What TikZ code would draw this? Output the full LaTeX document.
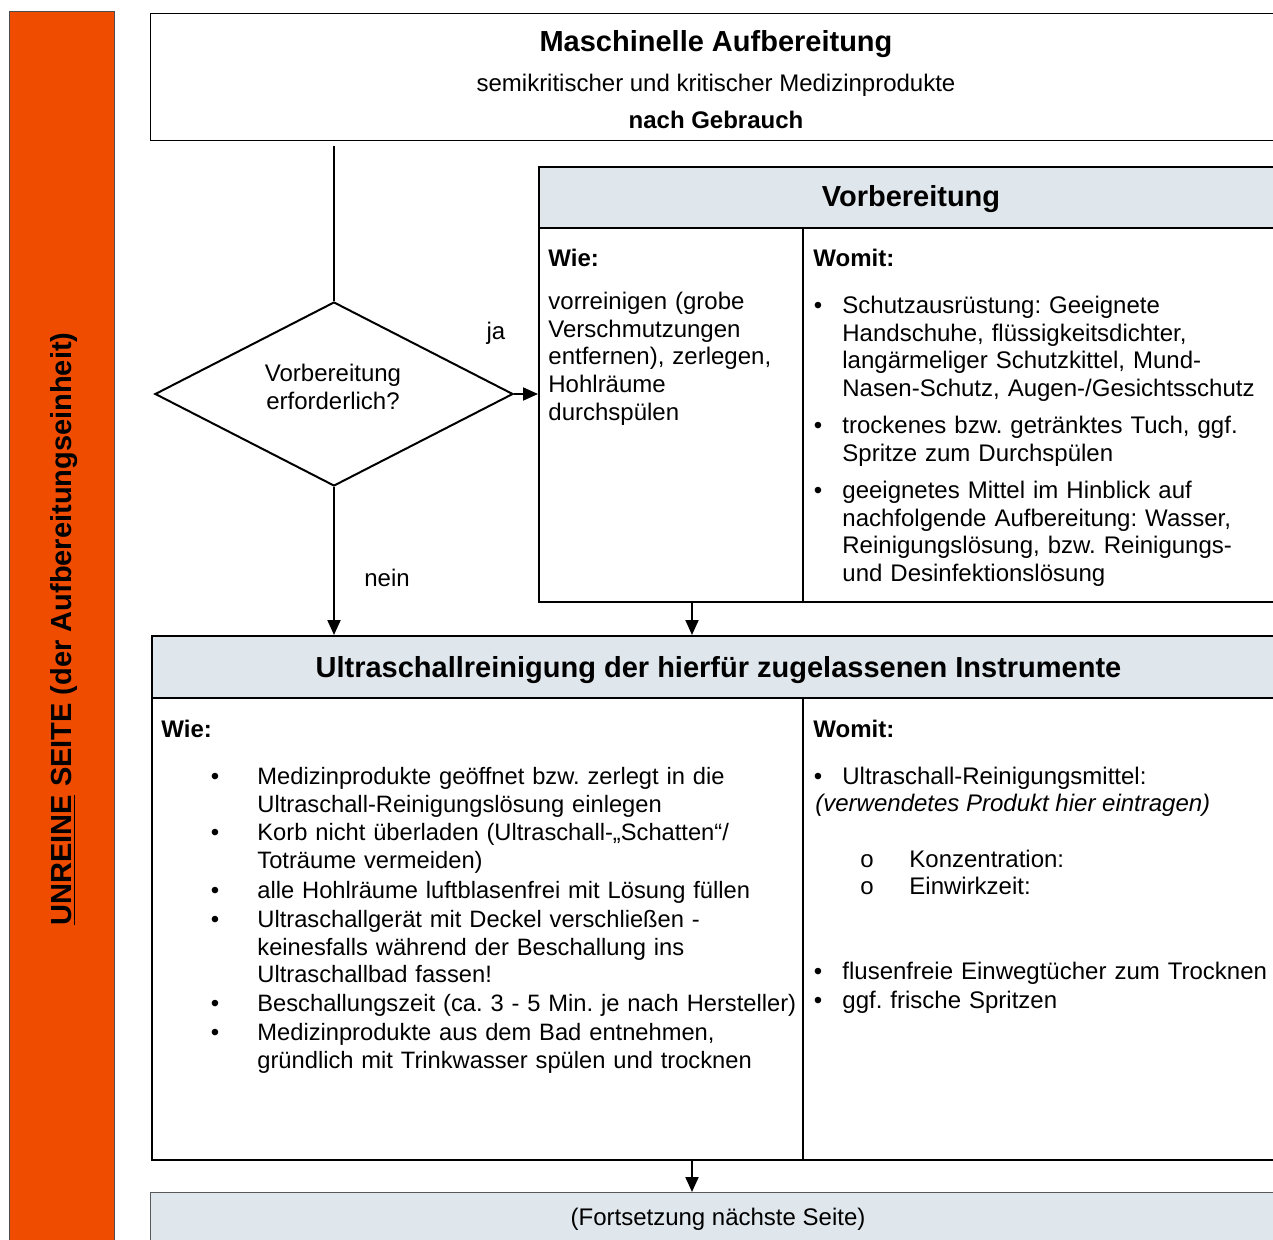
\documentclass[tikz,border=0pt]{standalone}
\usepackage{fontspec}
\setmainfont{Liberation Sans}
\usepackage{tikz}
\usetikzlibrary{positioning,shapes.geometric,arrows.meta}

\definecolor{unrein}{RGB}{240,76,0}
\definecolor{kopf}{RGB}{223,230,236}
\newcommand{\txtsize}{\fontsize{12}{13.8}\selectfont}
\newcommand{\lstsize}{\fontsize{11.85}{13.8}\selectfont}
\newcommand{\titsize}{\fontsize{14.5}{17}\selectfont\bfseries}
\frenchspacing

\tikzset{
  box/.style={draw, line width=1pt, rectangle, anchor=north west, inner sep=0pt},
  hdrbox/.style={box, fill=kopf, font=\titsize},
  txt/.style={anchor=north west, inner sep=0pt, align=left, text width=#1,
    font=\txtsize, execute at begin node=\strut},
  txt/.default=250pt,
  lst/.style={txt=280pt, font=\lstsize},
  bul/.style={anchor=north, inner sep=0pt, font=\txtsize, execute at begin node=\strut},
  lbl/.style={inner sep=0pt, font=\txtsize},
  fett/.style={inner sep=0pt, anchor=base west, font=\txtsize\bfseries},
  pfeil/.style={line width=1pt, -{Triangle[length=7.5pt,width=6.5pt]}},
}

\begin{document}
\begin{tikzpicture}[x=0.5pt,y=-0.5pt]
\useasboundingbox (0,0) rectangle (1273,1240);
\clip (0,0) rectangle (1273,1240);

% seitliche Leiste
\node[draw=gray!60!black, line width=0.5pt, fill=unrein, anchor=north west,
  minimum width=52.5pt, minimum height=630pt, inner sep=0pt] (leiste) at (9,11) {};
\node[rotate=90, font=\titsize] (seite) at (64,629) {\underline{UNREINE} SEITE (der Aufbereitungseinheit)};

% Kopf
\node[box, line width=0.6pt, minimum width=567.5pt, minimum height=63.5pt] (kopfbox) at (150,13) {};
\node[font=\titsize, anchor=base, inner sep=0pt] (titel) at (716,52) {Maschinelle Aufbereitung};
\node[lbl, anchor=base] (unter) at (716,92) {semikritischer und kritischer Medizinprodukte};
\node[lbl, anchor=base, font=\txtsize\bfseries] (wann) at (716,129) {nach Gebrauch};

% Entscheidung
\node[diamond, draw, line width=1pt, aspect=2, minimum width=179pt, minimum height=92pt,
  inner sep=0pt] (frage) at (334,394) {};
\node[lbl, align=center] (fragetext) at (333,387) {Vorbereitung\\erforderlich?};
\node[lbl] (ja) at (496,333) {ja};
\node[lbl] (nein) at (387,578) {nein};
\coordinate (mitte) at (692,0);

% Vorbereitung
\node[hdrbox, minimum width=373.5pt, minimum height=30.5pt] (vorH) at (538,166) {};
\node[font=\titsize, inner sep=0pt] (vortitel) at (911,199) {Vorbereitung};
\node[box, minimum width=373.5pt, minimum height=187pt] (vor) at (538,227) {};
\draw[line width=1pt] (803,227) -- (803,601);
\node[fett] (wie1) at (548,266.5) {Wie:};
\node[fett] (womit1) at (813,266.5) {Womit:};
\node[txt] (vorwie) at (548,290) {vorreinigen (grobe\\Verschmutzungen\\entfernen), zerlegen,\\Hohlräume\\durchspülen};
\node[bul] (vb1) at (818,294) {•};
\node[txt] (vt1) at (842,294) {Schutzausrüstung: Geeignete\\Handschuhe, flüssigkeitsdichter,\\langärmeliger Schutzkittel, Mund-\\Nasen-Schutz, Augen-/Gesichtsschutz};
\node[bul] (vb2) at (818,414) {•};
\node[txt] (vt2) at (842,414) {trockenes bzw. getränktes Tuch, ggf.\\Spritze zum Durchspülen};
\node[bul] (vb3) at (818,479) {•};
\node[txt] (vt3) at (842,479) {geeignetes Mittel im Hinblick auf\\nachfolgende Aufbereitung: Wasser,\\Reinigungslösung, bzw. Reinigungs-\\und Desinfektionslösung};

% Ultraschallreinigung
\node[hdrbox, minimum width=567pt, minimum height=31pt] (usH) at (151,635) {};
\node[font=\titsize, inner sep=0pt] (ustitel) at (718.5,670) {Ultraschallreinigung der hierfür zugelassenen Instrumente};
\node[box, minimum width=567pt, minimum height=231pt] (us) at (151,697) {};
\draw[line width=1pt] (803,697) -- (803,1159);
\node[fett] (wie2) at (161,737.5) {Wie:};
\node[fett] (womit2) at (813,737.5) {Womit:};
\node[bul] (ub1) at (215,765) {•};
\node[lst] (ut1) at (257,765) {Medizinprodukte geöffnet bzw. zerlegt in die\\Ultraschall-Reinigungslösung einlegen};
\node[bul] (ub2) at (215,821) {•};
\node[lst] (ut2) at (257,821) {Korb nicht überladen (Ultraschall-„Schatten“/\\Toträume vermeiden)};
\node[bul] (ub3) at (215,879) {•};
\node[lst] (ut3) at (257,879) {alle Hohlräume luftblasenfrei mit Lösung füllen};
\node[bul] (ub4) at (215,908) {•};
\node[lst] (ut4) at (257,908) {Ultraschallgerät mit Deckel verschließen -\\keinesfalls während der Beschallung ins\\Ultraschallbad fassen!};
\node[bul] (ub5) at (215,992) {•};
\node[lst] (ut5) at (257,992) {Beschallungszeit (ca. 3 - 5 Min. je nach Hersteller)};
\node[bul] (ub6) at (215,1021) {•};
\node[lst] (ut6) at (257,1021) {Medizinprodukte aus dem Bad entnehmen,\\gründlich mit Trinkwasser spülen und trocknen};

\node[bul] (mb1) at (818,765) {•};
\node[txt] (mt1) at (842,765) {Ultraschall-Reinigungsmittel:};
\node[lbl, anchor=base west, font=\txtsize\itshape] (produkt) at (815,811.5) {(verwendetes Produkt hier eintragen)};
\node[bul] (sb1) at (867,848) {o};
\node[txt] (st1) at (909,848) {Konzentration:};
\node[bul] (sb2) at (867,875) {o};
\node[txt] (st2) at (909,875) {Einwirkzeit:};
\node[bul] (mb2) at (818,960) {•};
\node[txt] (mt2) at (842,960) {flusenfreie Einwegtücher zum Trocknen};
\node[bul] (mb3) at (818,989) {•};
\node[txt] (mt3) at (842,989) {ggf. frische Spritzen};

% Fortsetzung
\node[box, draw=gray!70!black, line width=0.5pt, fill=kopf, minimum width=567.5pt, minimum height=34pt] (weiter) at (150,1192) {};
\node[lbl] (fort) at (718,1219) {(Fortsetzung nächste Seite)};

% Verbindungen
\draw[line width=1pt] ([yshift=-2.5pt]kopfbox.south -| frage.north) -- (frage.north);
\draw[pfeil] (frage.east) -- (frage.east -| vor.west);
\draw[pfeil] (frage.south) -- (frage.south |- usH.north);
\draw[pfeil] (mitte |- vor.south) -- (mitte |- usH.north);
\draw[pfeil] (mitte |- us.south) -- (mitte |- weiter.north);
\end{tikzpicture}
\end{document}
